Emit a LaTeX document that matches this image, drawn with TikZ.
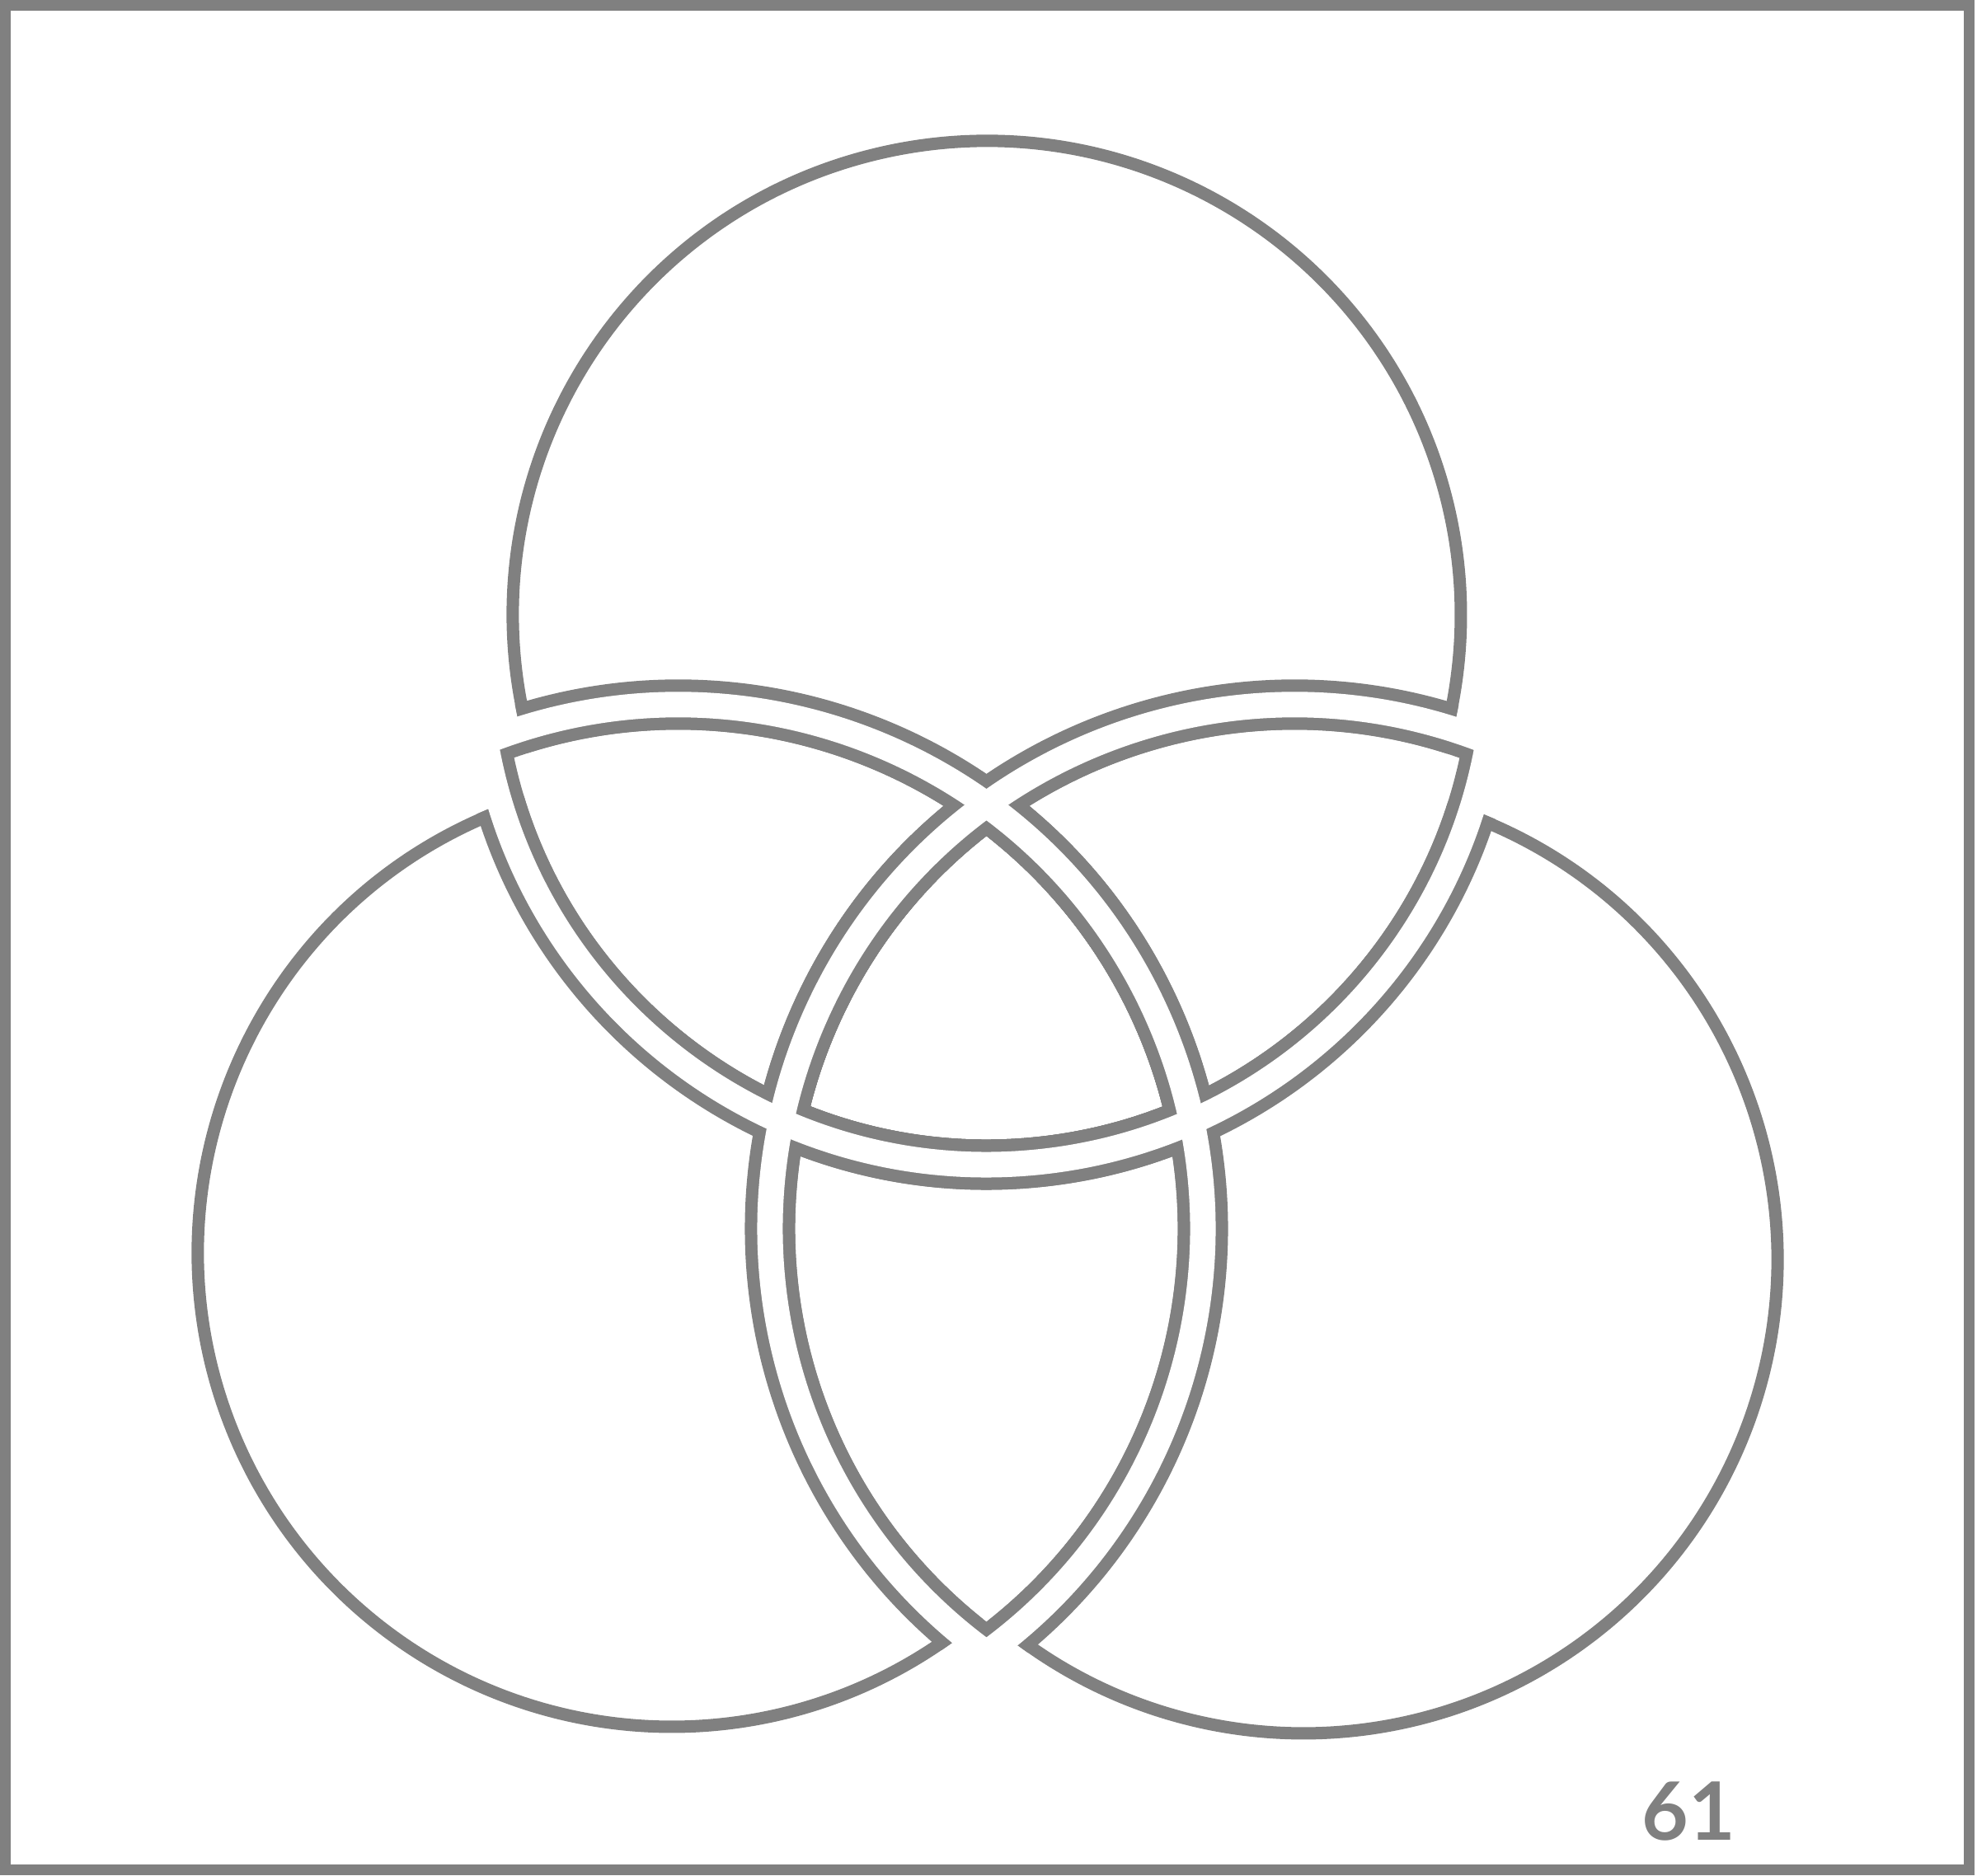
\documentclass[tikz,border=0pt]{standalone}
\usepackage{fontspec}
\setsansfont{Lato}
\definecolor{vgray}{HTML}{808080}
\tikzset{
  rim/.style={draw=vgray, line width=1.5mm},
  gapdark/.style={draw=vgray, line width=6.1mm},
  gaplight/.style={draw=white, line width=3.1mm},
  pageframe/.style={draw=vgray, line width=1.3mm},
  pagenum/.style={text=vgray, inner sep=0pt,
    font=\sffamily\bfseries\fontsize{27.8}{30}\selectfont}
}
% the three dividing arcs, drawn with style #1
\newcommand{\gaparcs}[1]{%
  \draw[#1] ([shift={(187:6.17)}]CT) arc[start angle=187, end angle=352.5, radius=6.17];
  \draw[#1] ([shift={(114:6.36)}]CL) arc[start angle=114, end angle=-56.5, radius=6.36];
  \draw[#1] ([shift={(66:6.36)}]CR) arc[start angle=66, end angle=236.5, radius=6.36];
}
% same arcs, kept inside the rims and the three lens tips
\newcommand{\gaplayer}[1]{%
  \begin{scope}
    \clip (OT) circle[radius=5.825] (OL) circle[radius=5.825] (OR) circle[radius=5.825];
    \gaparcs{#1}
  \end{scope}
  \begin{scope}\clip (CT) circle[radius=6.17]; \clip (CL) circle[radius=6.36]; \gaparcs{#1}\end{scope}
  \begin{scope}\clip (CT) circle[radius=6.17]; \clip (CR) circle[radius=6.36]; \gaparcs{#1}\end{scope}
  \begin{scope}\clip (CL) circle[radius=6.36]; \clip (CR) circle[radius=6.36]; \gaparcs{#1}\end{scope}
}

\begin{document}
\begin{tikzpicture}
  \useasboundingbox (0,0) rectangle (23.98,22.76);
  \draw[pageframe] (0.065,0.07) rectangle (23.88,22.695);

  % centres: outer rims (O) and dividing circles (C)
  \coordinate (OT) at (11.97,15.30);
  \coordinate (OL) at (8.15,7.56);
  \coordinate (OR) at (15.81,7.48);
  \coordinate (CT) at (11.97,14.80);
  \coordinate (CL) at (8.23,7.85);
  \coordinate (CR) at (15.70,7.85);

  % outer rims
  \draw[rim] ([shift={(193.72:5.75)}]OT) arc[start angle=193.72, end angle=-13.75, radius=5.75];
  \draw[rim] ([shift={(111.0:5.75)}]OL) arc[start angle=111.0, end angle=307.09, radius=5.75];
  \draw[rim] ([shift={(69.45:5.75)}]OR) arc[start angle=69.45, end angle=-127.91, radius=5.75];

  % gaps between the seven parts
  \gaplayer{gapdark}
  \gaparcs{gaplight}

  \node[pagenum] (pageno) at (20.48,0.78) {61};
\end{tikzpicture}
\end{document}
